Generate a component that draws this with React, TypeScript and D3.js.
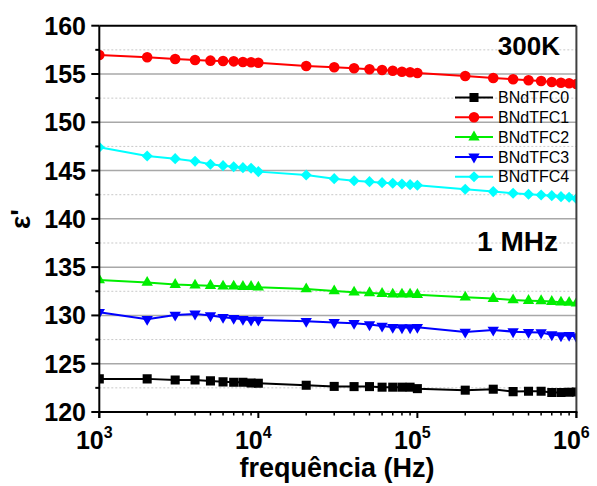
import React from "react";
import * as d3 from "d3";

const freqs = [
  1e3, 2e3, 3e3, 4e3, 5e3, 6e3, 7e3, 8e3, 9e3,
  1e4, 2e4, 3e4, 4e4, 5e4, 6e4, 7e4, 8e4, 9e4,
  1e5, 2e5, 3e5, 4e5, 5e5, 6e5, 7e5, 8e5, 9e5,
  1e6,
];

const bndtfc0 = [
  123.43, 123.43, 123.32, 123.32, 123.22, 123.12, 123.08, 123.08, 123.01,
  122.98, 122.77, 122.65, 122.63, 122.63, 122.57, 122.57, 122.57, 122.57,
  122.42, 122.26, 122.36, 122.11, 122.15, 122.15, 122.01, 122.01, 122.05,
  122.08,
];
const bndtfc1 = [
  156.97, 156.73, 156.55, 156.45, 156.38, 156.35, 156.31, 156.24, 156.21,
  156.17, 155.83, 155.69, 155.59, 155.49, 155.41, 155.34, 155.24, 155.18,
  155.1, 154.79, 154.59, 154.45, 154.35, 154.28, 154.17, 154.1, 154.04,
  153.96,
];
const bndtfc2 = [
  133.67, 133.4, 133.19, 133.13, 133.08, 133.02, 133.02, 132.98, 132.98,
  132.92, 132.74, 132.52, 132.4, 132.33, 132.26, 132.19, 132.19, 132.19,
  132.15, 131.88, 131.74, 131.6, 131.53, 131.5, 131.43, 131.37, 131.33,
  131.26,
];
const bndtfc3 = [
  130.33, 129.61, 130.05, 130.16, 129.98, 129.81, 129.71, 129.61, 129.53,
  129.53, 129.4, 129.28, 129.19, 129.05, 128.91, 128.78, 128.74, 128.74,
  128.78, 128.29, 128.5, 128.32, 128.26, 128.22, 128.01, 127.91, 127.95,
  127.81,
];
const bndtfc4 = [
  147.41, 146.51, 146.23, 145.96, 145.65, 145.51, 145.4, 145.3, 145.24,
  144.89, 144.54, 144.16, 143.95, 143.85, 143.75, 143.69, 143.61, 143.54,
  143.48, 143.06, 142.82, 142.65, 142.55, 142.47, 142.4, 142.3, 142.24,
  142.09,
];

const seriesNames = ["BNdTFC0", "BNdTFC1", "BNdTFC2", "BNdTFC3", "BNdTFC4"];
const seriesValues = [bndtfc0, bndtfc1, bndtfc2, bndtfc3, bndtfc4];
const seriesColors = ["#000000", "#ff0000", "#00ee00", "#0000ff", "#00ffff"];
const seriesMarkers = ["square", "circle", "triangle", "invtriangle", "diamond"];

const yTicks = [120, 125, 130, 135, 140, 145, 150, 155, 160];
const yMinorTicks = [122.5, 127.5, 132.5, 137.5, 142.5, 147.5, 152.5, 157.5];
const xTickExponents = [3, 4, 5, 6];

const annotTemp = "300K";
const annotFreq = "1 MHz";
const xTitle = "frequência (Hz)";

const W = 597;
const H = 486;
const L = 99.3;
const R = 576.4;
const T = 25.7;
const B = 412;
const FONT = "'Liberation Sans', Arial, Helvetica, sans-serif";

function markerPath(kind: string): string {
  switch (kind) {
    case "square":
      return d3.symbol(d3.symbolSquare, 82)() as string;
    case "circle":
      return d3.symbol(d3.symbolCircle, 88)() as string;
    case "triangle":
    case "invtriangle":
      return d3.symbol(d3.symbolTriangle, 56)() as string;
    case "diamond":
      return d3.symbol(d3.symbolSquare, 62)() as string;
  }
  return "";
}
function markerRotate(kind: string): number {
  if (kind === "invtriangle") return 180;
  if (kind === "diamond") return 45;
  return 0;
}

export default function App() {
  const x = d3.scaleLog().domain([1e3, 1e6]).range([L, R]);
  const y = d3.scaleLinear().domain([120, 160]).range([B, T]);

  const xMinor: number[] = [];
  for (let e = 3; e < 6; e++) {
    for (let m = 2; m <= 9; m++) xMinor.push(m * Math.pow(10, e));
  }

  const line = d3
    .line<number>()
    .x((_, i) => x(freqs[i]))
    .y((d) => y(d));

  const legendX0 = 455;
  const legendX1 = 493;
  const legendY0 = 97.5;
  const legendDy = 19.8;

  return (
    <svg
      width={W}
      height={H}
      style={{ position: "absolute", left: 0, top: 0, background: "#fff" }}
      fontFamily={FONT}
    >
      <defs>
        <clipPath id="plotclip">
          <rect x={L} y={T} width={R - L} height={B - T} />
        </clipPath>
      </defs>
      <rect x={0} y={0} width={W} height={H} fill="#fff" />

      {/* grid */}
      {yMinorTicks.map((t) => (
        <line
          key={"gm" + t}
          x1={L}
          x2={R}
          y1={y(t)}
          y2={y(t)}
          stroke="#c8c8c8"
          strokeWidth={1}
          strokeDasharray="2,2"
        />
      ))}
      {yTicks
        .filter((t) => t > 120 && t < 160)
        .map((t) => (
          <line
            key={"gM" + t}
            x1={L}
            x2={R}
            y1={y(t)}
            y2={y(t)}
            stroke="#a8a8a8"
            strokeWidth={1.5}
          />
        ))}

      {/* series */}
      <g clipPath="url(#plotclip)">
        {seriesValues.map((vals, si) => (
          <path
            key={"l" + si}
            d={line(vals) as string}
            fill="none"
            stroke={seriesColors[si]}
            strokeWidth={2}
          />
        ))}
        {seriesValues.map((vals, si) =>
          vals.map((v, i) => (
            <path
              key={"m" + si + "_" + i}
              d={markerPath(seriesMarkers[si])}
              transform={`translate(${x(freqs[i])},${y(v)}) rotate(${markerRotate(
                seriesMarkers[si]
              )})`}
              fill={seriesColors[si]}
            />
          ))
        )}
      </g>

      {/* frame */}
      <line x1={L} x2={R} y1={T} y2={T} stroke="#000" strokeWidth={2} />
      <line x1={R} x2={R} y1={T} y2={B + 6} stroke="#404040" strokeWidth={2} />
      <line x1={L} x2={L} y1={T} y2={B + 6} stroke="#000" strokeWidth={2} />
      <line x1={L - 1} x2={R + 1} y1={B} y2={B} stroke="#000" strokeWidth={2} />

      {/* y ticks */}
      {yTicks.map((t) => (
        <g key={"yt" + t}>
          <line x1={L - 8} x2={L} y1={y(t)} y2={y(t)} stroke="#000" strokeWidth={2} />
          <text
            x={86}
            y={y(t)}
            dy="0.36em"
            textAnchor="end"
            fontSize={25}
            fontWeight="bold"
          >
            {t}
          </text>
        </g>
      ))}
      {yMinorTicks.map((t) => (
        <line
          key={"ymt" + t}
          x1={L - 4}
          x2={L}
          y1={y(t)}
          y2={y(t)}
          stroke="#000"
          strokeWidth={2}
        />
      ))}

      {/* x ticks */}
      {xTickExponents.map((e) => {
        const px = x(Math.pow(10, e));
        return (
          <g key={"xt" + e}>
            <line x1={px} x2={px} y1={B} y2={B + 6} stroke="#000" strokeWidth={2} />
            <text x={px - 5} y={449} textAnchor="middle" fontWeight="bold">
              <tspan fontSize={25}>10</tspan>
              <tspan fontSize={16} dy={-11}>
                {e}
              </tspan>
            </text>
          </g>
        );
      })}
      {xMinor.map((v) => (
        <line
          key={"xmt" + v}
          x1={x(v)}
          x2={x(v)}
          y1={B}
          y2={B + 3.5}
          stroke="#000"
          strokeWidth={1.5}
        />
      ))}

      {/* axis titles */}
      <text x={337} y={477} textAnchor="middle" fontSize={27} fontWeight="bold">
        {xTitle}
      </text>
      <text
        transform={`translate(30,219) rotate(-90)`}
        textAnchor="middle"
        fontSize={28}
        fontWeight="bold"
      >
        ε'
      </text>

      {/* annotations */}
      <text x={560} y={55} textAnchor="end" fontSize={26} fontWeight="bold">
        {annotTemp}
      </text>
      <text x={558} y={251} textAnchor="end" fontSize={28} fontWeight="bold">
        {annotFreq}
      </text>

      {/* legend */}
      {seriesNames.map((name, si) => {
        const ly = legendY0 + si * legendDy;
        return (
          <g key={"lg" + si}>
            <line
              x1={legendX0}
              x2={legendX1}
              y1={ly}
              y2={ly}
              stroke={seriesColors[si]}
              strokeWidth={2}
            />
            <path
              d={markerPath(seriesMarkers[si])}
              transform={`translate(${(legendX0 + legendX1) / 2},${ly}) rotate(${markerRotate(
                seriesMarkers[si]
              )})`}
              fill={seriesColors[si]}
            />
            <text x={498} y={ly} dy="0.36em" fontSize={16}>
              {name}
            </text>
          </g>
        );
      })}
    </svg>
  );
}
